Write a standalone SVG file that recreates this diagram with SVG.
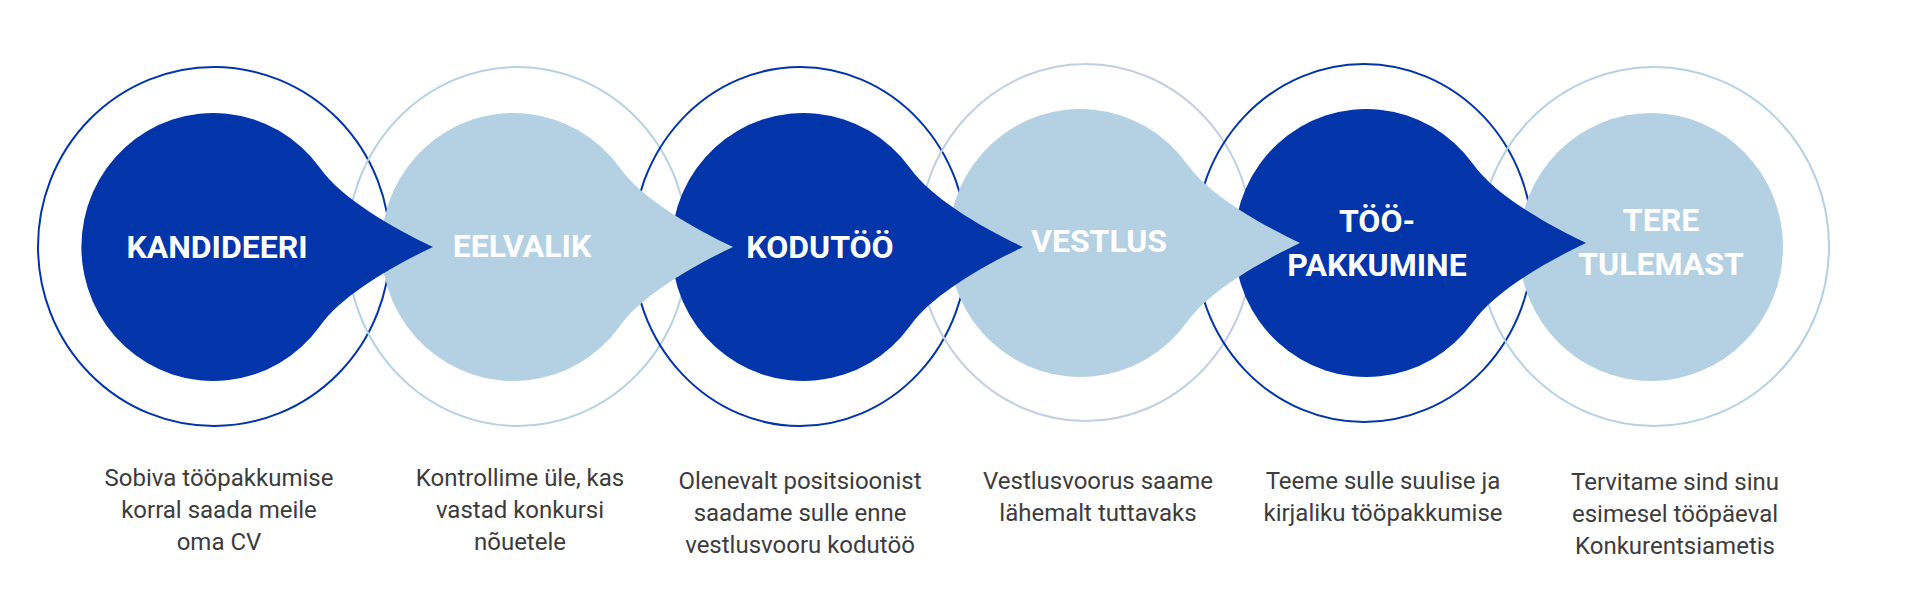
<svg xmlns="http://www.w3.org/2000/svg" width="1920" height="592" viewBox="0 0 1920 592">
  <defs>
    <style>
      .ring { fill: none; stroke-width: 2; }
      .ring-dark { stroke: #0235a9; }
      .ring-light { stroke: #b3d1e3; }
      .ring-grey { stroke: #c2cfe1; }
      .dark { fill: #0235a9; }
      .light { fill: #b3d1e3; }
      .title { font-family: Roboto, "Liberation Sans", sans-serif; font-weight: 700; font-size: 32px; fill: #ffffff; text-anchor: middle; }
      .desc { font-family: Roboto, "Liberation Sans", sans-serif; font-weight: 400; font-size: 24px; fill: #3c3c3c; text-anchor: middle; }
    </style>
    <path id="drop" d="M107,79 C129,48 180,19 220,0 C180,-19 129,-48 107,-79 A132 134 0 1 0 107,79 Z"/>
  </defs>

  <rect width="1920" height="592" fill="#ffffff"/>

  <g id="rings">
    <ellipse id="ring-1" class="ring ring-dark" cx="214" cy="246.5" rx="176" ry="179.5"/>
    <ellipse id="ring-2" class="ring ring-light" cx="517.5" cy="246.5" rx="170.5" ry="179.5"/>
    <ellipse id="ring-3" class="ring ring-dark" cx="800" cy="246.5" rx="167.5" ry="179.5"/>
    <ellipse id="ring-4" class="ring ring-grey" cx="1085.5" cy="242.5" rx="167.5" ry="178.5"/>
    <ellipse id="ring-5" class="ring ring-dark" cx="1364" cy="243" rx="169" ry="179"/>
    <ellipse id="ring-6" class="ring ring-light" cx="1654" cy="246.5" rx="175" ry="179.5"/>
  </g>

  <g id="connectors"></g>

  <g id="node-6">
    <ellipse class="light" cx="1651" cy="247" rx="132" ry="134"/>
    <text class="title" x="1661" y="231">TERE</text>
    <text class="title" x="1661" y="275">TULEMAST</text>
  </g>
  <g id="node-5">
    <use href="#drop" class="dark" transform="translate(1366,243)"/>
    <text class="title" x="1377" y="232">TÖÖ-</text>
    <text class="title" x="1377" y="276">PAKKUMINE</text>
  </g>
  <g id="node-4">
    <use href="#drop" class="light" transform="translate(1080,243)"/>
    <text class="title" x="1099" y="252">VESTLUS</text>
  </g>
  <g id="node-3">
    <use href="#drop" class="dark" transform="translate(803,247)"/>
    <text class="title" x="820" y="258">KODUTÖÖ</text>
  </g>
  <g id="node-2">
    <use href="#drop" class="light" transform="translate(513,247)"/>
    <text class="title" x="522" y="257">EELVALIK</text>
  </g>
  <g id="node-1">
    <use href="#drop" class="dark" transform="translate(213,247)"/>
    <text class="title" x="217" y="258">KANDIDEERI</text>
  </g>

  <g id="descriptions">
    <text class="desc" x="219" y="486">Sobiva tööpakkumise<tspan x="219" dy="32">korral saada meile</tspan><tspan x="219" dy="32">oma CV</tspan></text>
    <text class="desc" x="520" y="486">Kontrollime üle, kas<tspan x="520" dy="32">vastad konkursi</tspan><tspan x="520" dy="32">nõuetele</tspan></text>
    <text class="desc" x="800" y="489">Olenevalt positsioonist<tspan x="800" dy="32">saadame sulle enne</tspan><tspan x="800" dy="32">vestlusvooru kodutöö</tspan></text>
    <text class="desc" x="1098" y="489">Vestlusvoorus saame<tspan x="1098" dy="32">lähemalt tuttavaks</tspan></text>
    <text class="desc" x="1383" y="489">Teeme sulle suulise ja<tspan x="1383" dy="32">kirjaliku tööpakkumise</tspan></text>
    <text class="desc" x="1675" y="490">Tervitame sind sinu<tspan x="1675" dy="32">esimesel tööpäeval</tspan><tspan x="1675" dy="32">Konkurentsiametis</tspan></text>
  </g>
</svg>
